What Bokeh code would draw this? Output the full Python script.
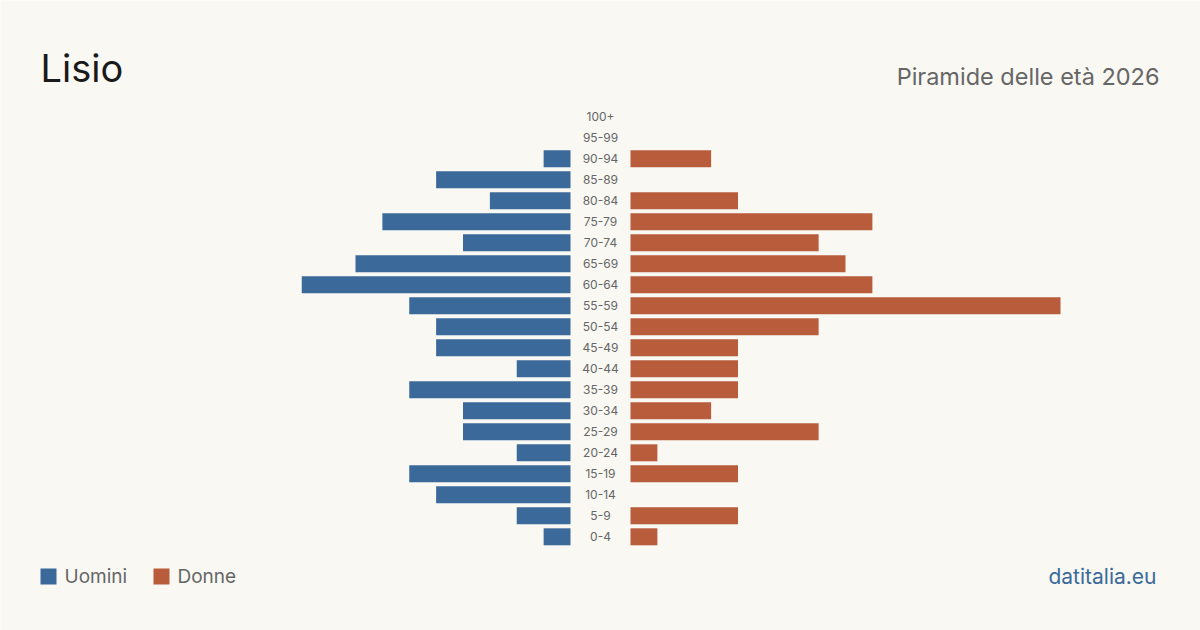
from bokeh.plotting import figure
from bokeh.models import Range1d, ColumnDataSource
from bokeh.core.properties import value
from bokeh.embed import file_html
from bokeh.resources import INLINE

# Age groups from youngest to oldest
age_groups = ["0-4", "5-9", "10-14", "15-19", "20-24", "25-29", "30-34", "35-39",
              "40-44", "45-49", "50-54", "55-59", "60-64", "65-69", "70-74",
              "75-79", "80-84", "85-89", "90-94", "95-99", "100+"]
men = [1, 2, 5, 6, 2, 4, 4, 6, 2, 5, 5, 6, 10, 8, 4, 7, 3, 5, 1, 0, 0]
women = [1, 4, 0, 4, 1, 7, 3, 4, 4, 4, 7, 16, 9, 8, 7, 9, 4, 0, 3, 0, 0]

W, H = 1200, 630
BG = "#f9f8f3"
BLUE = "#3b6a9a"
ORANGE = "#b85c3c"
GRAY = "#666666"

px_per_unit = 26.875
half = (W / 2) / px_per_unit
gap = 30 / px_per_unit
row = 21.0
base_px = 536.3  # pixel y of the youngest row

p = figure(width=W, height=H, output_backend="svg", toolbar_location=None,
           x_range=Range1d(-half, half),
           y_range=Range1d((base_px - H) / row, base_px / row),
           min_border=0, background_fill_color=BG, border_fill_color=BG,
           outline_line_color=None)
p.xaxis.visible = False
p.yaxis.visible = False
p.grid.visible = False

idx = list(range(len(age_groups)))
src = ColumnDataSource(dict(
    y=idx, label=age_groups,
    m_left=[-gap - v for v in men], m_right=[-gap] * len(men),
    f_left=[gap] * len(women), f_right=[gap + v for v in women],
))

bh = 17 / row
p.hbar(y="y", left="m_left", right="m_right", height=bh, source=src,
       fill_color=BLUE, line_color=None)
p.hbar(y="y", left="f_left", right="f_right", height=bh, source=src,
       fill_color=ORANGE, line_color=None)
p.text(x=0, y="y", text="label", source=src, text_align="center",
       text_baseline="middle", text_font_size="12px", text_color=GRAY,
       text_font=value("Inter"))

def px_x(x):
    return (x - W / 2) / px_per_unit

def px_y(y):
    return (base_px - y) / row

# Title and subtitle
p.text(x=[px_x(40)], y=[px_y(67)], text=["Lisio"], text_font=value("Inter"),
       text_font_size="38px", text_color="#1a1a1a", text_baseline="middle",
       text_align="left")
p.text(x=[px_x(1159)], y=[px_y(76)], text=["Piramide delle età 2026"],
       text_font=value("Inter"), text_font_size="23.5px", text_color=GRAY,
       text_baseline="middle", text_align="right")

# Legend
sq = 16 / px_per_unit
p.rect(x=[px_x(48), px_x(161)], y=[px_y(576), px_y(576)], width=sq,
       height=16 / row, fill_color=[BLUE, ORANGE], line_color=None)
p.text(x=[px_x(64), px_x(177)], y=[px_y(576), px_y(576)],
       text=["Uomini", "Donne"], text_font=value("Inter"), text_font_size="19px",
       text_color=GRAY, text_baseline="middle", text_align="left")

# Source
p.text(x=[px_x(1156)], y=[px_y(576)], text=["datitalia.eu"],
       text_font=value("Inter"), text_font_size="21px", text_color=BLUE,
       text_baseline="middle", text_align="right")

open("out.html", "w").write(file_html(p, INLINE))
